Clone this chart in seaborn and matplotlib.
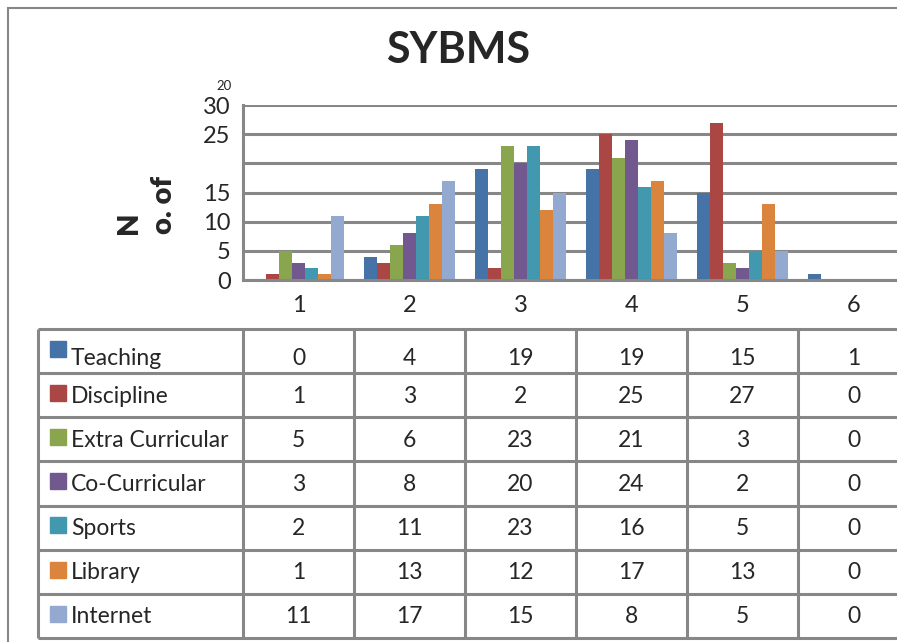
import matplotlib
matplotlib.use("Agg")
from matplotlib import pyplot as plt
from matplotlib.patches import Rectangle
import seaborn as sns
import pandas as pd
import numpy as np

categories = ["1", "2", "3", "4", "5", "6"]
series_names = ["Teaching", "Discipline", "Extra Curricular", "Co-Curricular",
                "Sports", "Library", "Internet"]
teaching = [0, 4, 19, 19, 15, 1]
discipline = [1, 3, 2, 25, 27, 0]
extra_curricular = [5, 6, 23, 21, 3, 0]
co_curricular = [3, 8, 20, 24, 2, 0]
sports = [2, 11, 23, 16, 5, 0]
library = [1, 13, 12, 17, 13, 0]
internet = [11, 17, 15, 8, 5, 0]
y_ticks = [0, 5, 10, 15, 20, 25, 30]
y_tick_labels = ["0", "5", "10", "15", "", "25", "30"]

colors = ["#4572A7", "#AA4643", "#89A54E", "#71588F", "#4198AF", "#DB843D", "#93A9CF"]
grid_col = "#878787"

values = [teaching, discipline, extra_curricular, co_curricular, sports, library, internet]
df = pd.DataFrame([
    {"cat": c, "series": s, "val": v}
    for s, vals in zip(series_names, values)
    for c, v in zip(categories, vals)
])

sns.set_style("white")
plt.rcParams["font.family"] = ["Lato", "DejaVu Sans"]

W, H = 897, 642
fig = plt.figure(figsize=(W / 100, H / 100), dpi=100)

# outer chart border (left and top visible)
fig.add_artist(Rectangle((8 / W, -0.1), 1.2, 1 - 8 / H + 0.1, transform=fig.transFigure,
                         fill=False, edgecolor=grid_col, lw=1.5))

ax_left, ax_right = 243, 909
ax = fig.add_axes([ax_left / W, 1 - 280 / H, (ax_right - ax_left) / W, 175 / H])
sns.barplot(data=df, x="cat", y="val", hue="series", order=categories,
            hue_order=series_names, palette=colors, width=0.82, saturation=1,
            linewidth=0, legend=False, ax=ax)
ax.set_xlim(-0.5, 5.5)
ax.set_ylim(0, 30)
ax.set_yticks(y_ticks)
ax.set_yticklabels(y_tick_labels, fontsize=17)
ax.tick_params(axis="y", length=0, pad=9)
ax.yaxis.grid(True, color=grid_col, lw=2.2)
ax.set_axisbelow(True)
for side in ["top", "right"]:
    ax.spines[side].set_visible(False)
for side in ["left", "bottom"]:
    ax.spines[side].set_color(grid_col)
    ax.spines[side].set_linewidth(2.2)

# category row: long tick marks at boundaries, labels at centres
ax.set_xticks(np.arange(-0.5, len(categories)), labels=[""] * (len(categories) + 1))
ax.set_xticks(np.arange(len(categories)), labels=categories, minor=True)
ax.tick_params(axis="x", which="major", length=35, width=2.2, color=grid_col, direction="out")
ax.tick_params(axis="x", which="minor", length=0, pad=11, labelsize=17)
ax.set_xlabel("")
ax.set_ylabel("N\no. of", fontsize=21, fontweight="heavy", rotation=90,
              multialignment="left", linespacing=1.45)
ax.yaxis.set_label_coords(-0.099, 0.43)
ax.text(-0.0165, 1.11, "20", transform=ax.transAxes, fontsize=9.5, ha="right", va="center")

fig.text(458 / W, 1 - 50 / H, "SYBMS", fontsize=31, fontweight="bold", ha="center", va="center")

# data table below the chart
tab_left = 38
unit = (ax_right - ax_left) / len(categories)
x0 = -0.5 - (ax_left - tab_left) / unit
tax = fig.add_axes([tab_left / W, 1 - 638 / H, (ax_right - tab_left) / W, (638 - 329) / H])
tax.set_xlim(x0, 5.5)
tax.set_ylim(len(series_names), 0)
tax.axis("off")
tax.hlines(np.arange(len(series_names) + 1), x0, 5.5, color=grid_col, lw=2.2, clip_on=False)
tax.vlines([x0] + list(np.arange(-0.5, len(categories))), 0, len(series_names),
           color=grid_col, lw=2.2, clip_on=False)
for i, (name, vals, col) in enumerate(zip(series_names, values, colors)):
    ty = i + (0.66 if i == 0 else 0.52)
    tax.plot(x0 + 20 / unit, i + 0.45, marker="s", ms=11.5, color=col, clip_on=False)
    tax.text(x0 + 33 / unit, ty, name, fontsize=16.5, ha="left", va="center")
    for j, v in enumerate(vals):
        tax.text(j, ty, str(v), fontsize=16.5, ha="center", va="center")

fig.savefig("out.png", dpi=100)
